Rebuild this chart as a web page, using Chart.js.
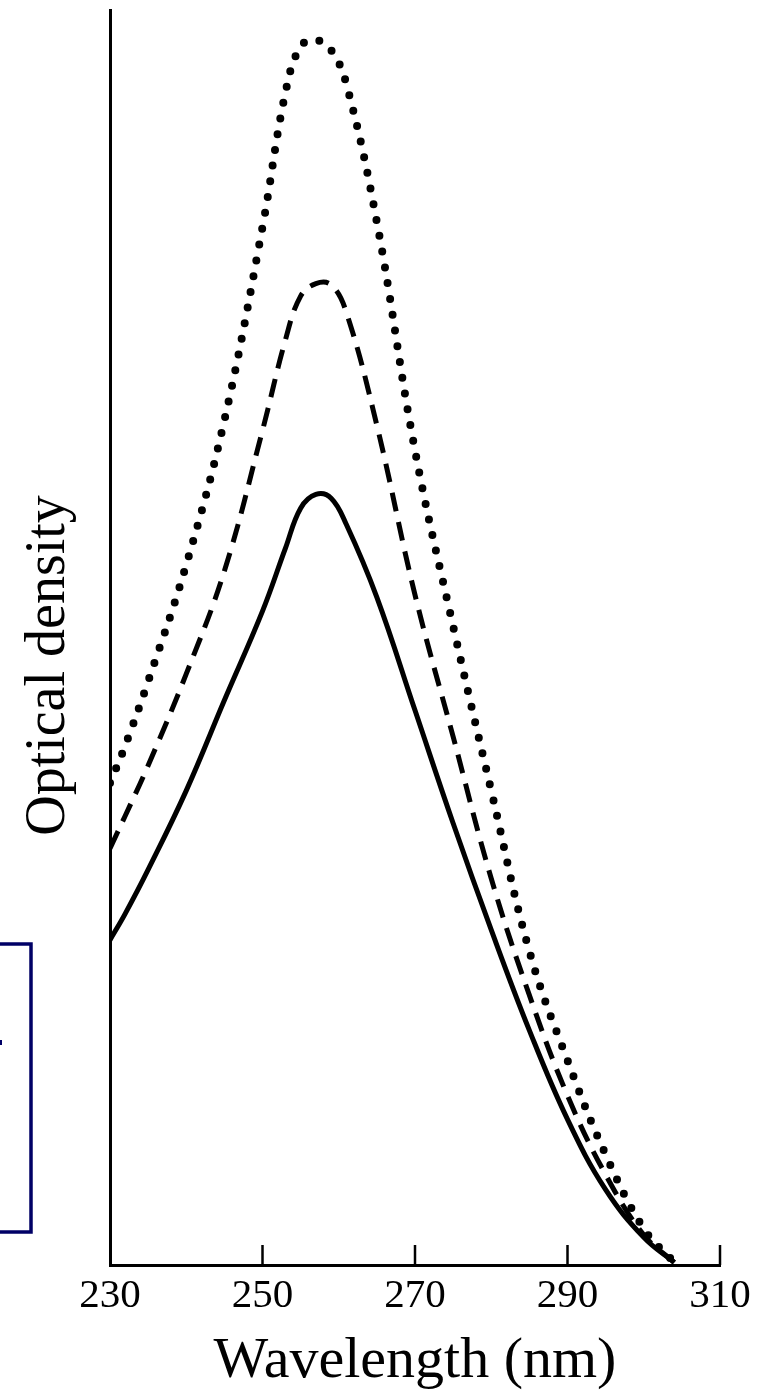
<!DOCTYPE html>
<html>
<head>
<meta charset="utf-8">
<title>Optical density</title>
<script src="https://cdn.jsdelivr.net/npm/chart.js@4/dist/chart.umd.min.js"></script>
<style>
  body { margin: 0; background: #fff; }
  #wrap { width: 760px; height: 1397px; }
</style>
</head>
<body>
<div id="wrap"><canvas id="odChart" width="760" height="1397"></canvas></div>
<script>
// wavelengths (nm)
var wavelengths = [230, 232, 235, 240, 245, 250, 253, 255, 257, 259, 261, 265, 270, 275, 280, 285, 290, 295, 300, 304];

// optical density, arbitrary units (axis has no scale)
var solidOD  = [0.259, 0.280, 0.315, 0.378, 0.450, 0.521, 0.571, 0.603, 0.614, 0.611, 0.590, 0.532, 0.442, 0.352, 0.267, 0.187, 0.116, 0.060, 0.022, 0.002];
var dashedOD = [0.332, 0.358, 0.398, 0.471, 0.553, 0.665, 0.737, 0.772, 0.782, 0.781, 0.759, 0.669, 0.534, 0.421, 0.308, 0.215, 0.135, 0.072, 0.024, 0.002];
var dottedOD = [0.384, 0.414, 0.465, 0.558, 0.673, 0.827, 0.934, 0.971, 0.976, 0.968, 0.941, 0.831, 0.649, 0.509, 0.378, 0.250, 0.163, 0.088, 0.029, 0.002];

var xTicks = [230, 250, 270, 290, 310];
var innerTicks = [250, 270, 290, 310];

var serif = "'Liberation Serif', 'DejaVu Serif', serif";

function toPoints(values) {
  return wavelengths.map(function(w, i) { return { x: w, y: values[i] }; });
}

// small tick marks that point up into the plot
var innerTickPlugin = {
  id: 'innerTicks',
  afterDraw: function(chart) {
    var ctx = chart.ctx;
    var xs = chart.scales.x;
    var y0 = chart.chartArea.bottom;
    ctx.save();
    ctx.strokeStyle = '#000';
    ctx.lineWidth = 2.5;
    innerTicks.forEach(function(v) {
      var px = xs.getPixelForValue(v);
      ctx.beginPath();
      ctx.moveTo(px, y0);
      ctx.lineTo(px, y0 - 20);
      ctx.stroke();
    });
    ctx.restore();
  }
};

// the navy bracket on the left edge of the scan
var bracketPlugin = {
  id: 'bracket',
  afterDraw: function(chart) {
    var ctx = chart.ctx;
    ctx.save();
    ctx.strokeStyle = '#000066';
    ctx.lineWidth = 3.5;
    ctx.beginPath();
    ctx.moveTo(0, 944);
    ctx.lineTo(31, 944);
    ctx.lineTo(31, 1232);
    ctx.lineTo(0, 1232);
    ctx.stroke();
    ctx.fillStyle = '#000066';
    ctx.fillRect(0, 1040, 2, 5);
    ctx.restore();
  }
};

var chart = new Chart(document.getElementById('odChart'), {
  type: 'line',
  data: {
    datasets: [
      {
        label: 'solid',
        data: toPoints(solidOD),
        borderColor: '#000',
        borderWidth: 5,
        pointRadius: 0,
        tension: 0.4
      },
      {
        label: 'dashed',
        data: toPoints(dashedOD),
        borderColor: '#000',
        borderWidth: 5,
        borderDash: [19, 11],
        pointRadius: 0,
        tension: 0.4
      },
      {
        label: 'dotted',
        data: toPoints(dottedOD),
        borderColor: '#000',
        borderWidth: 8,
        borderDash: [0, 16],
        borderCapStyle: 'round',
        pointRadius: 0,
        tension: 0.4
      }
    ]
  },
  options: {
    responsive: false,
    animation: false,
    layout: { padding: { top: 10, right: 40, left: 0, bottom: 0 } },
    plugins: {
      legend: { display: false },
      tooltip: { enabled: false }
    },
    scales: {
      x: {
        type: 'linear',
        min: 230,
        max: 310,
        afterBuildTicks: function(scale) {
          scale.ticks = xTicks.map(function(v) { return { value: v }; });
        },
        afterFit: function(scale) { scale.height = 132; },
        grid: { display: false, drawTicks: false },
        border: { display: true, color: '#000', width: 3 },
        ticks: {
          color: '#000',
          font: { family: serif, size: 41 },
          padding: 7,
          maxRotation: 0
        },
        title: {
          display: true,
          text: 'Wavelength (nm)',
          color: '#000',
          font: { family: serif, size: 58 },
          padding: { top: 0, bottom: 0 }
        }
      },
      y: {
        min: 0,
        max: 1,
        afterFit: function(scale) { scale.width = 110; },
        grid: { display: false, drawTicks: false },
        border: { display: true, color: '#000', width: 3 },
        ticks: { display: false },
        title: {
          display: true,
          // trailing spaces nudge the rotated title down a little
          text: 'Optical density\u00a0\u00a0\u00a0\u00a0',
          color: '#000',
          font: { family: serif, size: 56 },
          padding: { top: 16, bottom: 0 }
        }
      }
    }
  },
  plugins: [innerTickPlugin, bracketPlugin]
});
</script>
</body>
</html>
